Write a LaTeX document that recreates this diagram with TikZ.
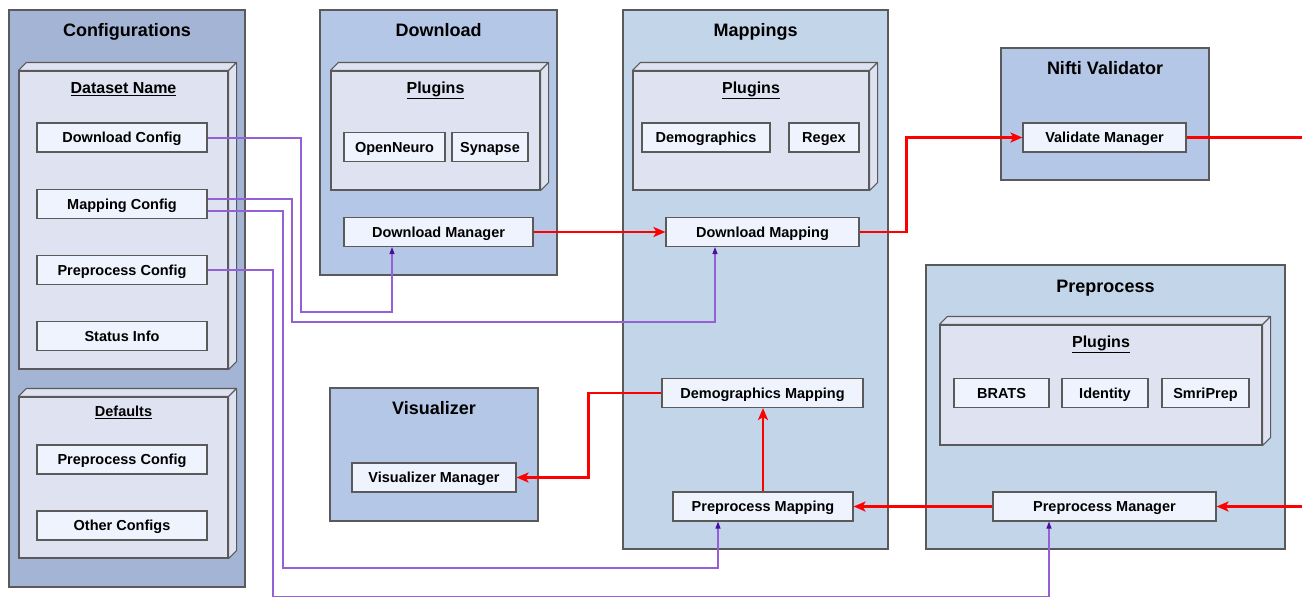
\documentclass[tikz,border=0pt]{standalone}
\usepackage{fontspec}
\setmainfont{Liberation Sans}
\usepackage{xcolor}
\usepackage{tikz}
\usetikzlibrary{positioning}
\usetikzlibrary{arrows.meta}

\definecolor{conffill}{HTML}{A4B4D4}
\definecolor{modfill}{HTML}{B4C7E7}
\definecolor{mapfill}{HTML}{C3D5E8}
\definecolor{plugfill}{HTML}{DFE3F1}
\definecolor{itemfill}{HTML}{EEF3FD}
\definecolor{edgegray}{HTML}{5A5A5A}
\definecolor{cfgpurple}{HTML}{9360D8}
\definecolor{tippurple}{HTML}{4A0FA0}

\tikzset{flow/.style = {draw=red, line width=2.4pt, -{Stealth[length=12pt,width=10pt,inset=3pt]}}}
\tikzset{cfgline/.style = {draw=cfgpurple, line width=1.2pt, -{Triangle[length=7pt,width=5pt,color=tippurple]}}}

% back faces of a plugin box (top and right side)
\newcommand{\plugdepth}[1]{%
  \draw[draw=edgegray, line width=1.1pt, fill=plugfill, line join=round]
    (#1.north west) -- ++(8,-8) -- ([shift={(8,-8)}]#1.north east)
    -- ([shift={(8,-8)}]#1.south east) -- (#1.south east) -- (#1.north east) -- cycle
    (#1.north east) -- ++(8,-8);
}

\begin{document}
\begin{tikzpicture}[x=1pt,y=-1pt,
  group/.style={draw=edgegray, line width=1.3pt, inner sep=0pt},
  group title/.style={anchor=center, yshift=-21pt, text height=13pt, text depth=0pt,
    font=\bfseries\fontsize{18}{20}\selectfont},
  plug box/.style={draw=edgegray, line width=1.1pt, fill=plugfill, inner sep=0pt},
  plug title/.style={anchor=center, yshift=-17pt, text height=11.5pt, text depth=0pt,
    font=\bfseries\fontsize{16}{18}\selectfont},
  item/.style={draw=edgegray, line width=1.1pt, fill=itemfill, minimum height=29, inner sep=0pt,
    text height=10.4pt, text depth=0pt, font=\bfseries\fontsize{14.5}{16}\selectfont}]
\useasboundingbox (0,0) rectangle (1302,598);

% configurations
\node[group, fill=conffill, minimum width=236, minimum height=577,
  label={[group title]north:Configurations}] (conf) at (127,298.5) {};
\node[plug box, minimum width=209, minimum height=298,
  label={[plug title]north:\underline{Dataset Name}}] (dataset) at (123.5,220) {};
\plugdepth{dataset}
\node[item, minimum width=170] (dlcfg) at (122,137.5) {Download Config};
\node[item, minimum width=170] (mapcfg) at (122,204) {Mapping Config};
\node[item, minimum width=170] (ppcfg) at (122,270) {Preprocess Config};
\node[item, minimum width=170] (status) at (122,336) {Status Info};
\node[plug box, minimum width=209, minimum height=161,
  label={[plug title, yshift=2pt, text height=10.4pt, font=\bfseries\fontsize{14.5}{16}\selectfont]north:\underline{Defaults}}] (defaults) at (123.5,477.5) {};
\plugdepth{defaults}
\node[item, minimum width=170] (defpp) at (122,459.5) {Preprocess Config};
\node[item, minimum width=170] (defother) at (122,525.5) {Other Configs};

% download
\node[group, fill=modfill, minimum width=237, minimum height=265,
  label={[group title]north:Download}] (download) at (438.5,142.5) {};
\node[plug box, minimum width=209, minimum height=119,
  label={[plug title]north:\underline{Plugins}}] (dlplug) at (435.5,130.5) {};
\plugdepth{dlplug}
\node[item, minimum width=101] (openneuro) at (394.5,147) {OpenNeuro};
\node[item, minimum width=76] (synapse) at (490,147) {Synapse};
\node[item, minimum width=189] (dlmgr) at (438.5,232) {Download Manager};

% mappings
\node[group, fill=mapfill, minimum width=265, minimum height=539,
  label={[group title]north:Mappings}] (mappings) at (755.5,279.5) {};
\node[plug box, minimum width=236, minimum height=119,
  label={[plug title]north:\underline{Plugins}}] (mapplug) at (751,130.5) {};
\plugdepth{mapplug}
\node[item, minimum width=128] (demo) at (706,137.5) {Demographics};
\node[item, minimum width=70] (regex) at (824,137.5) {Regex};
\node[item, minimum width=193] (dlmap) at (762.5,232) {Download Mapping};
\node[item, minimum width=201] (demomap) at (762.5,393) {Demographics Mapping};
\node[item, minimum width=180] (ppmap) at (763,506.5) {Preprocess Mapping};

% nifti validator
\node[group, fill=modfill, minimum width=208, minimum height=132,
  label={[group title]north:Nifti Validator}] (nifti) at (1105,114) {};
\node[item, minimum width=163] (valmgr) at (1104.5,137.5) {Validate Manager};

% preprocess
\node[group, fill=mapfill, minimum width=359, minimum height=284,
  label={[group title, yshift=-1pt]north:Preprocess}] (preprocess) at (1105.5,407) {};
\node[plug box, minimum width=322, minimum height=120,
  label={[plug title]north:\underline{Plugins}}] (ppplug) at (1101,385) {};
\plugdepth{ppplug}
\node[item, minimum width=95] (brats) at (1001.5,393) {BRATS};
\node[item, minimum width=86] (identity) at (1105,393) {Identity};
\node[item, minimum width=87] (smriprep) at (1205.5,393) {SmriPrep};
\node[item, minimum width=223] (ppmgr) at (1104.5,506.5) {Preprocess Manager};

% visualizer
\node[group, fill=modfill, minimum width=208, minimum height=133,
  label={[group title]north:Visualizer}] (viz) at (434,454.5) {};
\node[item, minimum width=164] (vizmgr) at (434,477.5) {Visualizer Manager};

% loose ends on the right border
\coordinate (valout) at (1302,137.5);
\coordinate (ppin) at (1302,506.5);

% data flow
\draw[flow] (dlmgr) -- (dlmap);
\draw[flow] (dlmap.east) -- ++(47,0) |- (valmgr.west);
\draw[flow, -] (valmgr.east) -- (valout);
\draw[flow] (ppin) -- (ppmgr.east);
\draw[flow] (ppmgr.west) -- (ppmap.east);
\draw[flow] (ppmap.north) -- (ppmap.north |- demomap.south);
\draw[flow] (demomap.west) -- ++(-73,0) |- (vizmgr.east);

% config links
\draw[cfgline] ([yshift=-0.5pt]dlcfg.east) -| (301,312) -| ([xshift=-46.5pt]dlmgr.south);
\draw[cfgline] ([yshift=5pt]mapcfg.east) -| (292,322) -| ([xshift=-47.5pt]dlmap.south);
\draw[cfgline] ([yshift=-7pt]mapcfg.east) -| (283,568) -| ([xshift=-45pt]ppmap.south);
\draw[cfgline] (ppcfg.east) -| (273,596.5) -| ([xshift=-55.5pt]ppmgr.south);
\end{tikzpicture}
\end{document}
